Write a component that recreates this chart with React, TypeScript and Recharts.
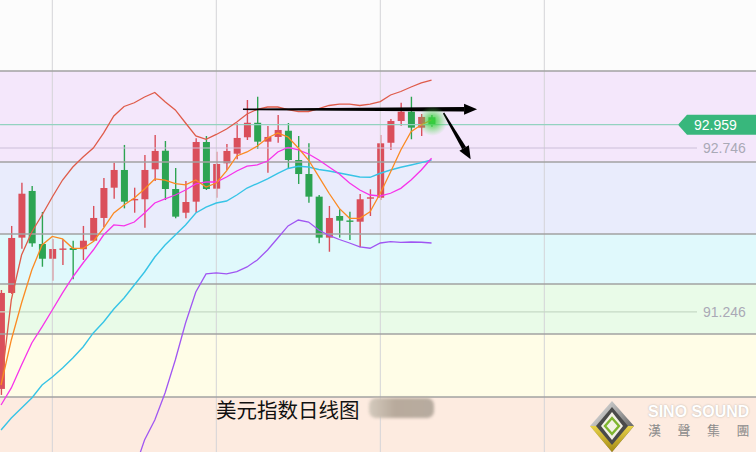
import React from "react";
import {
  ComposedChart,
  Bar,
  Line,
  XAxis,
  YAxis,
  ReferenceArea,
  ReferenceLine,
  ReferenceDot,
} from "recharts";

// daily candles, index = trading day
const days = Array.from({ length: 43 }, (_, i) => i);
const opens = [90.542, 91.42, 91.926, 92.353, 91.868, 91.733, 91.818, 91.831, 91.82, 91.898, 92.106, 92.383, 92.545, 92.272, 92.277, 92.551, 92.721, 92.371, 92.154, 92.255, 92.801, 92.374, 92.606, 92.694, 92.844, 92.977, 92.804, 92.847, 92.904, 92.636, 92.508, 92.301, 91.926, 92.124, 92.083, 92.072, 92.286, 92.291, 92.794, 92.993, 93.078, 92.932, 93.027];
const highs = [91.447, 92.033, 92.429, 92.399, 92.161, 91.914, 91.911, 91.898, 92.033, 92.216, 92.472, 92.612, 92.774, 92.383, 92.682, 92.865, 92.81, 92.563, 92.444, 92.835, 92.856, 92.712, 92.783, 92.972, 93.185, 93.215, 92.947, 93.048, 92.975, 92.856, 92.789, 92.316, 92.216, 92.185, 92.163, 92.325, 92.368, 92.865, 93.011, 93.16, 93.215, 93.057, 93.048];
const lows = [90.487, 91.411, 91.825, 91.843, 91.66, 91.532, 91.676, 91.545, 91.722, 91.889, 92.023, 92.282, 92.194, 92.154, 92.017, 92.444, 92.27, 92.103, 92.103, 92.154, 92.362, 92.291, 92.545, 92.643, 92.819, 92.737, 92.52, 92.794, 92.56, 92.417, 92.246, 91.874, 91.797, 91.926, 91.905, 91.838, 92.124, 92.27, 92.728, 92.95, 92.826, 92.856, 92.941];
const closes = [91.42, 91.923, 92.328, 91.874, 91.733, 91.822, 91.827, 91.813, 91.898, 92.106, 92.38, 92.545, 92.255, 92.28, 92.545, 92.719, 92.371, 92.118, 92.252, 92.801, 92.371, 92.6, 92.719, 92.838, 92.977, 92.804, 92.847, 92.911, 92.636, 92.508, 92.301, 91.926, 92.106, 92.081, 92.074, 92.277, 92.295, 92.789, 92.993, 93.078, 92.932, 93.03, 92.959];

// moving averages and bands
const ma5 = [90.578, 90.99, 91.328, 91.63, 91.859, 91.937, 91.914, 91.829, 91.827, 91.891, 92.014, 92.152, 92.225, 92.289, 92.371, 92.463, 92.453, 92.421, 92.408, 92.453, 92.389, 92.426, 92.536, 92.673, 92.71, 92.764, 92.838, 92.883, 92.847, 92.746, 92.636, 92.484, 92.332, 92.194, 92.103, 92.103, 92.163, 92.332, 92.527, 92.728, 92.895, 92.959, 93.002];
const ma10 = [90.395, 90.551, 90.761, 90.962, 91.109, 91.264, 91.42, 91.566, 91.694, 91.813, 91.95, 92.042, 92.033, 92.069, 92.152, 92.243, 92.28, 92.316, 92.362, 92.417, 92.435, 92.435, 92.481, 92.536, 92.581, 92.591, 92.627, 92.71, 92.751, 92.728, 92.691, 92.636, 92.572, 92.508, 92.426, 92.362, 92.316, 92.307, 92.332, 92.377, 92.453, 92.545, 92.652];
const ma20 = [90.167, 90.276, 90.368, 90.459, 90.578, 90.651, 90.734, 90.825, 90.926, 91.054, 91.154, 91.273, 91.374, 91.493, 91.612, 91.749, 91.859, 91.95, 92.042, 92.152, 92.206, 92.243, 92.261, 92.316, 92.38, 92.421, 92.463, 92.513, 92.559, 92.579, 92.572, 92.549, 92.536, 92.517, 92.499, 92.481, 92.478, 92.515, 92.545, 92.57, 92.591, 92.612, 92.636];
const upper = [90.578, 91.356, 91.767, 91.978, 92.133, 92.298, 92.453, 92.572, 92.664, 92.746, 92.883, 93.039, 93.126, 93.16, 93.213, 93.254, 93.17, 93.094, 92.975, 92.856, 92.826, 92.87, 92.92, 92.984, 93.057, 93.1, 93.121, 93.121, 93.098, 93.078, 93.08, 93.107, 93.135, 93.148, 93.148, 93.135, 93.148, 93.171, 93.231, 93.263, 93.304, 93.341, 93.368];
const lower = [null, null, null, null, null, null, null, null, null, null, null, null, 89.526, 89.801, 90.075, 90.258, 90.505, 90.807, 91.145, 91.429, 91.594, 91.603, 91.594, 91.615, 91.658, 91.722, 91.813, 91.923, 92.033, 92.087, 92.069, 91.996, 91.946, 91.909, 91.877, 91.841, 91.829, 91.877, 91.889, 91.882, 91.886, 91.884, 91.877];

// price zones
const bandLevels = [94.1, 93.45, 92.618, 91.959, 91.502, 91.045, 90.468, 89.965];
const bandColors = ["#fcfcfc", "#f4e7fb", "#e9ecfc", "#e0f9fc", "#e9fbe8", "#fffde7", "#fdebe0"];
const gridDays = [5, 21, 37, 53];

const lastPrice = 92.959;
const levelLabels = [92.746, 91.246];

// hand-drawn arrows on the chart (day, price)
const flatArrow = [{ x: 23.6, y: 93.1 }, { x: 46.44, y: 93.1 }];
const downArrow = [{ x: 43.17, y: 93.066 }, { x: 45.82, y: 92.643 }];

const logoChars = ["漢", "聲", "集", "團"];

const rows = days.map((d) => ({
  d,
  o: opens[d],
  h: highs[d],
  l: lows[d],
  c: closes[d],
  range: [lows[d], highs[d]],
  ma5: ma5[d],
  ma10: ma10[d],
  ma20: ma20[d],
  upper: upper[d],
  lower: lower[d],
}));

function Candle(props: any) {
  const { x, y, width, height, payload } = props;
  const { o, h, l, c } = payload;
  const color = c >= o ? "#da4f5b" : "#2da452";
  const cx = x + width / 2;
  const yHi = Math.min(y, y + height);
  const yLo = Math.max(y, y + height);
  const span = h - l || 1e-6;
  const toY = (v: number) => yHi + ((h - v) / span) * (yLo - yHi);
  const top = toY(Math.max(o, c));
  const bot = toY(Math.min(o, c));
  return (
    <g>
      <line x1={cx} x2={cx} y1={yHi} y2={yLo} stroke={color} strokeWidth={1.4} />
      <rect x={cx - 3.5} y={top} width={7} height={Math.max(bot - top, 1.4)} fill={color} />
    </g>
  );
}

function Arrow(props: any) {
  const { x1, y1, x2, y2 } = props;
  const dx = x2 - x1;
  const dy = y2 - y1;
  const len = Math.hypot(dx, dy) || 1;
  const ux = dx / len;
  const uy = dy / len;
  const nx = -uy;
  const ny = ux;
  const headLen = 13;
  const headW = 5.5;
  const bx = x2 - ux * headLen;
  const by = y2 - uy * headLen;
  const w0 = 0.8;
  const w1 = 2.2;
  const shaft = [
    [x1 + nx * w0, y1 + ny * w0],
    [bx + nx * w1, by + ny * w1],
    [bx - nx * w1, by - ny * w1],
    [x1 - nx * w0, y1 - ny * w0],
  ];
  const head = [
    [x2, y2],
    [bx + nx * headW, by + ny * headW],
    [bx - nx * headW, by - ny * headW],
  ];
  return (
    <g>
      <polygon points={shaft.map((p) => p.join(",")).join(" ")} fill="#000" />
      <polygon points={head.map((p) => p.join(",")).join(" ")} fill="#000" />
    </g>
  );
}

function Glow(props: any) {
  const { cx, cy } = props;
  return (
    <g>
      <defs>
        <radialGradient id="glow">
          <stop offset="0%" stopColor="#36d43a" stopOpacity={0.95} />
          <stop offset="45%" stopColor="#3fd53f" stopOpacity={0.55} />
          <stop offset="100%" stopColor="#6be06b" stopOpacity={0} />
        </radialGradient>
      </defs>
      <circle cx={cx} cy={cy} r={15} fill="url(#glow)" />
    </g>
  );
}

function PriceTag(props: any) {
  const { viewBox } = props;
  const y = viewBox.y;
  const right = viewBox.x + viewBox.width;
  const left = right - 78;
  return (
    <g>
      <polygon
        points={`${left},${y} ${left + 9},${y - 10} ${right},${y - 10} ${right},${y + 10} ${left + 9},${y + 10}`}
        fill="#38b77c"
      />
      <text x={left + 16} y={y + 5} fill="#fff" fontSize={14} fontFamily="Liberation Sans, Arial">
        {lastPrice.toFixed(3)}
      </text>
    </g>
  );
}

function LevelText(props: any) {
  const { viewBox, text } = props;
  const right = viewBox.x + viewBox.width;
  return (
    <text x={right - 53} y={viewBox.y + 5} fill="#a9a9b6" fontSize={14} fontFamily="Liberation Sans, Arial">
      {text}
    </text>
  );
}

function Logo() {
  return (
    <div style={{ position: "absolute", left: 588, top: 398, width: 168, height: 54 }}>
      <svg width={168} height={54} style={{ position: "absolute", left: 0, top: 0 }}>
        <defs>
          <linearGradient id="lgTop" x1="0" y1="0" x2="1" y2="1">
            <stop offset="0%" stopColor="#f2f2f2" />
            <stop offset="100%" stopColor="#3a3a3a" />
          </linearGradient>
          <linearGradient id="lgBot" x1="0" y1="0" x2="0" y2="1">
            <stop offset="0%" stopColor="#e8d24a" />
            <stop offset="100%" stopColor="#a48a12" />
          </linearGradient>
        </defs>
        <polygon points="24,3 46,28 24,54 2,28" fill="url(#lgTop)" />
        <polygon points="2,28 46,28 24,54" fill="url(#lgBot)" />
        <polygon points="24,9 40,28 24,47 8,28" fill="#4a4a4a" />
        <polygon points="24,14 35,28 24,42 13,28" fill="#f4f1e6" />
        <polygon points="24,20 31,28 24,36 17,28" fill="none" stroke="#7fb52f" strokeWidth={2.4} />
      </svg>
      <div
        style={{
          position: "absolute",
          left: 60,
          top: 5,
          fontFamily: "Liberation Sans, Arial",
          fontWeight: 700,
          fontSize: 16,
          color: "#ffffff",
          textShadow: "0 0 2px #b8b0a8",
          whiteSpace: "nowrap",
        }}
      >
        SINO SOUND
      </div>
      {logoChars.map((ch, k) => (
        <div
          key={ch}
          style={{
            position: "absolute",
            left: 60 + k * 29.5,
            top: 23,
            fontFamily: "Noto Sans CJK TC",
            fontSize: 13,
            color: "#8c8c8c",
            lineHeight: "18px",
          }}
        >
          {ch}
        </div>
      ))}
    </div>
  );
}

export default function App() {
  return (
    <div
      style={{
        position: "absolute",
        left: 0,
        top: 0,
        width: 756,
        height: 452,
        overflow: "hidden",
        background: "#fcfcfc",
      }}
    >
      <ComposedChart width={756} height={452} data={rows} margin={{ top: 0, right: 0, bottom: 0, left: 0 }}>
        <XAxis dataKey="d" type="number" domain={[-0.1024, 73.654]} allowDataOverflow hide />
        <YAxis type="number" domain={[89.965, 94.1]} allowDataOverflow hide />
        {bandColors.map((col, k) => (
          <ReferenceArea
            key={col}
            y1={bandLevels[k + 1]}
            y2={bandLevels[k]}
            fill={col}
            fillOpacity={1}
            stroke="none"
            ifOverflow="hidden"
          />
        ))}
        {gridDays.map((d) => (
          <ReferenceLine key={d} x={d} stroke="#d4d4d8" strokeWidth={1} />
        ))}
        {bandLevels.slice(1, -1).map((v) => (
          <ReferenceLine key={v} y={v} stroke="#a2a2a2" strokeWidth={1.5} />
        ))}
        <ReferenceLine
          segment={[
            { x: -0.1, y: lastPrice },
            { x: 66.05, y: lastPrice },
          ]}
          stroke="#93d2c0"
          strokeWidth={1.2}
        />
        <ReferenceLine y={lastPrice} stroke="none" label={<PriceTag />} />
        {levelLabels.map((v) => (
          <ReferenceLine
            key={v}
            segment={[
              { x: -0.1, y: v },
              { x: 67.9, y: v },
            ]}
            stroke={v > 92 ? "#cbbfd9" : "#c6dac6"}
            strokeWidth={1.2}
          />
        ))}
        {levelLabels.map((v) => (
          <ReferenceLine key={"t" + v} y={v} stroke="none" label={<LevelText text={v.toFixed(3)} />} />
        ))}
        <Bar dataKey="range" barSize={7} shape={<Candle />} activeBar={false} isAnimationActive={false} />
        <Line dataKey="upper" stroke="#df5c4a" strokeWidth={1.3} dot={false} activeDot={false} isAnimationActive={false} />
        <Line dataKey="lower" stroke="#a056f2" strokeWidth={1.3} dot={false} activeDot={false} isAnimationActive={false} />
        <Line dataKey="ma20" stroke="#37c4e6" strokeWidth={1.4} dot={false} activeDot={false} isAnimationActive={false} />
        <Line dataKey="ma10" stroke="#f733ea" strokeWidth={1.3} dot={false} activeDot={false} isAnimationActive={false} />
        <Line dataKey="ma5" stroke="#fb8a22" strokeWidth={1.3} dot={false} activeDot={false} isAnimationActive={false} />
        <ReferenceDot x={42.1} y={92.993} shape={<Glow />} />
        <ReferenceLine segment={flatArrow} shape={<Arrow />} />
        <ReferenceLine segment={downArrow} shape={<Arrow />} />
      </ComposedChart>
      <div
        style={{
          position: "absolute",
          left: 216,
          top: 396,
          fontFamily: "Noto Sans CJK SC",
          fontSize: 20.5,
          color: "#111",
          whiteSpace: "nowrap",
          lineHeight: "26px",
        }}
      >
        美元指数日线图
      </div>
      <div
        style={{
          position: "absolute",
          left: 369,
          top: 398,
          width: 65,
          height: 20,
          borderRadius: 7,
          background: "linear-gradient(90deg, #d4cabd 0%, #b8aa9c 40%, #b7ab9f 100%)",
          filter: "blur(1.5px)",
        }}
      />
      <Logo />
    </div>
  );
}
